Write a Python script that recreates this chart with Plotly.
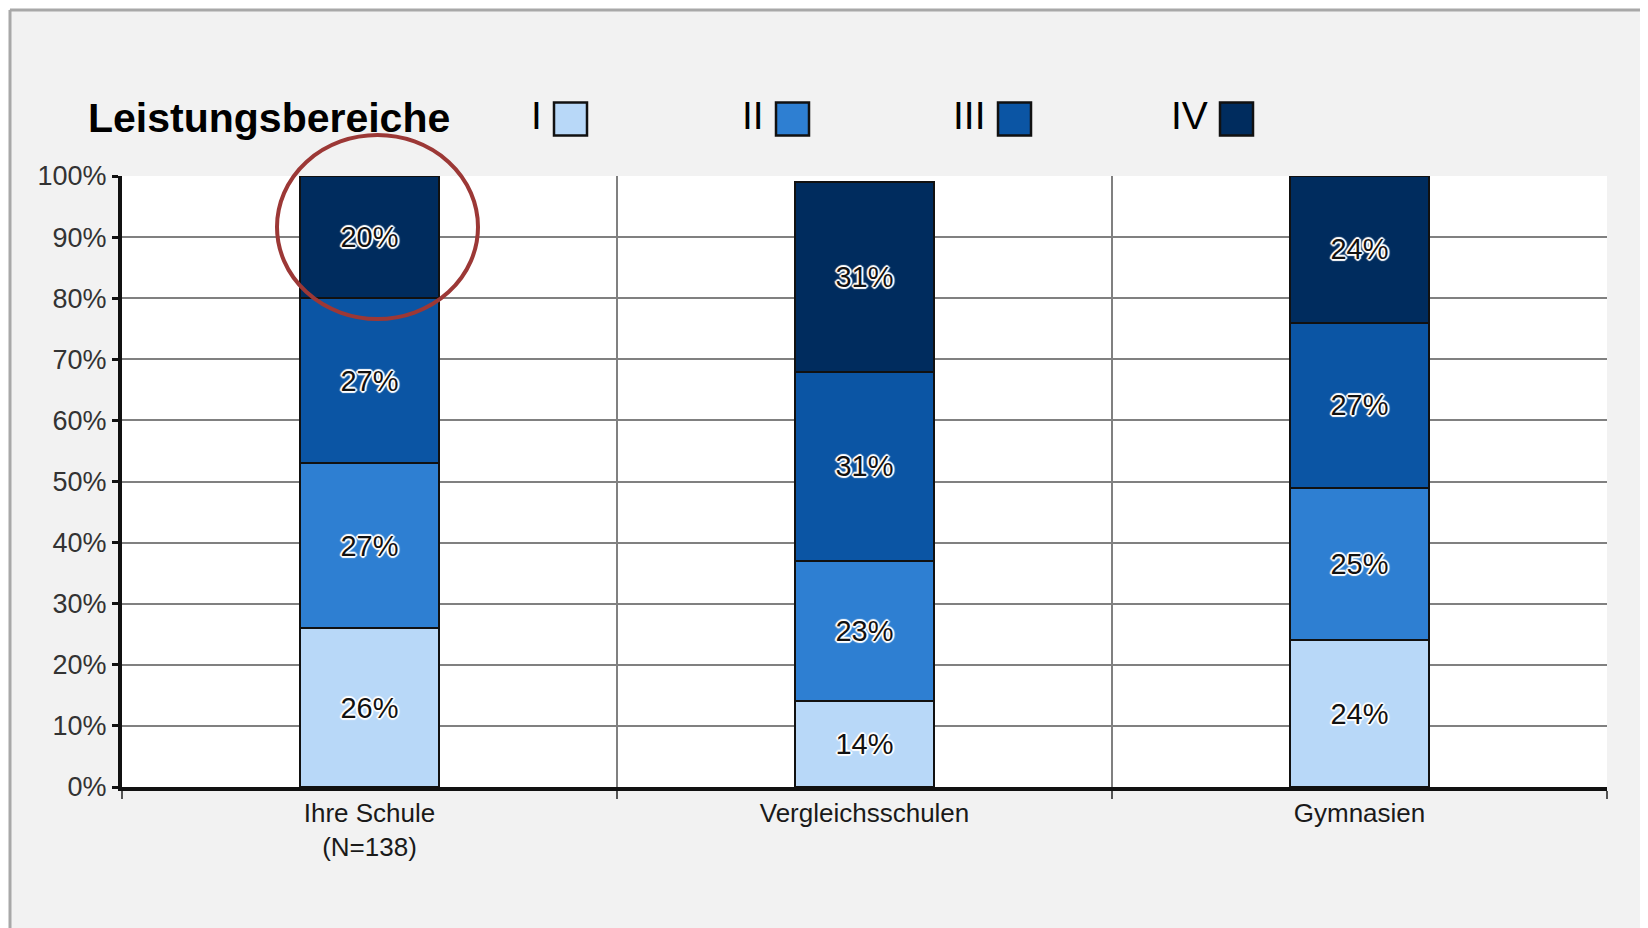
import plotly.graph_objects as go

# ---- data ----
categories = ["Ihre Schule<br>(N=138)", "Vergleichsschulen", "Gymnasien"]
series_names = ["I", "II", "III", "IV"]
series_colors = ["#b8d8f8", "#2e7fd2", "#0b55a4", "#002c5e"]
values_I = [26, 14, 24]
values_II = [27, 23, 25]
values_III = [27, 31, 27]
values_IV = [20, 31, 24]
y_ticks = [0, 10, 20, 30, 40, 50, 60, 70, 80, 90, 100]
title_text = "Leistungsbereiche"

series_values = [values_I, values_II, values_III, values_IV]

# page body has an 8px margin; work in screen pixels and convert
OFF = 8
W, H = 1648 - OFF, 928 - OFF
PL, PR, PT, PB = 122, 1607, 176, 787          # plot area in screen pixels
L, T = PL - OFF, PT - OFF
R, B = W - (PR - OFF), H - (PB - OFF)
PW, PH = PR - PL, PB - PT


def px(x):
    return (x - PL) / PW


def py(y):
    return (PB - y) / PH


FONT = "Liberation Sans, Arial, sans-serif"
halo = ("white 1px 1px 1px, white -1px -1px 1px, white 1px -1px 1px, white -1px 1px 1px, "
        "white 0px 2px 1px, white 0px -2px 1px, white 2px 0px 1px, white -2px 0px 1px")

fig = go.Figure()
for name, color, vals in zip(series_names, series_colors, series_values):
    fig.add_trace(go.Bar(
        x=categories, y=vals, name=name,
        text=[f"{v}%" for v in vals],
        marker=dict(color=color, line=dict(color="#111111", width=2)),
        width=0.28,
        texttemplate="%{text}", textposition="inside", insidetextanchor="middle",
        textangle=0, constraintext="none",
        textfont=dict(family=FONT, size=29, color="#111111", shadow=halo),
        showlegend=False,
    ))

shapes = []
# outer frame: white strips + gray border
shapes.append(dict(type="rect", xref="paper", yref="paper", x0=px(-20), x1=px(1700),
                   y0=py(9), y1=py(-20), fillcolor="white", line=dict(width=0), layer="below"))
shapes.append(dict(type="rect", xref="paper", yref="paper", x0=px(-20), x1=px(9),
                   y0=py(1000), y1=py(-20), fillcolor="white", line=dict(width=0), layer="below"))
shapes.append(dict(type="line", xref="paper", yref="paper", x0=px(10), x1=px(1700),
                   y0=py(10), y1=py(10), line=dict(color="#a8a8a8", width=3), layer="below"))
shapes.append(dict(type="line", xref="paper", yref="paper", x0=px(10), x1=px(10),
                   y0=py(10), y1=py(1000), line=dict(color="#a8a8a8", width=3), layer="below"))

annotations = [dict(text="<b>" + title_text + "</b>", xref="paper", yref="paper",
                    x=px(86), y=py(118), xanchor="left", yanchor="middle", showarrow=False,
                    font=dict(family=FONT, size=41, color="#000000"))]

# manual legend (text before swatch)
box_left0, spacing, box_w, box_h, box_cy = 554, 222, 33, 33, 119
for i, (name, color) in enumerate(zip(series_names, series_colors)):
    bx = box_left0 + i * spacing
    shapes.append(dict(type="rect", xref="paper", yref="paper",
                       x0=px(bx), x1=px(bx + box_w),
                       y0=py(box_cy + box_h / 2), y1=py(box_cy - box_h / 2),
                       fillcolor=color, line=dict(color="#111111", width=2.5)))
    annotations.append(dict(text=name, xref="paper", yref="paper", x=px(bx - 10), y=py(box_cy - 3),
                            xanchor="right", yanchor="middle", showarrow=False,
                            font=dict(family=FONT, size=39, color="#000000")))

# red highlight circle
shapes.append(dict(type="circle", xref="paper", yref="paper",
                   x0=px(277), x1=px(478), y0=py(319), y1=py(135),
                   line=dict(color="#9c3836", width=4)))

fig.update_layout(
    width=W, height=H,
    margin=dict(l=L, r=R, t=T, b=B, pad=0),
    paper_bgcolor="#f2f2f2", plot_bgcolor="white",
    barmode="stack",
    showlegend=False,
    shapes=shapes, annotations=annotations,
    font=dict(family=FONT, color="#222222"),
    xaxis=dict(type="category", tickson="boundaries", showgrid=True, gridcolor="#808080", gridwidth=2,
               ticks="outside", ticklen=8, tickwidth=2, tickcolor="#555555",
               showline=True, linecolor="#111111", linewidth=4,
               tickfont=dict(family=FONT, size=26, color="#1a1a1a"), fixedrange=True),
    yaxis=dict(range=[0, 100], tickvals=y_ticks, ticktext=[f"{v}%" for v in y_ticks],
               showgrid=True, gridcolor="#808080", gridwidth=2, zeroline=False,
               ticks="outside", ticklen=6, tickwidth=3, tickcolor="#111111",
               showline=True, linecolor="#111111", linewidth=4,
               tickfont=dict(family=FONT, size=27, color="#333333"), fixedrange=True),
)

fig.write_html("out.html", config={"displayModeBar": False})
